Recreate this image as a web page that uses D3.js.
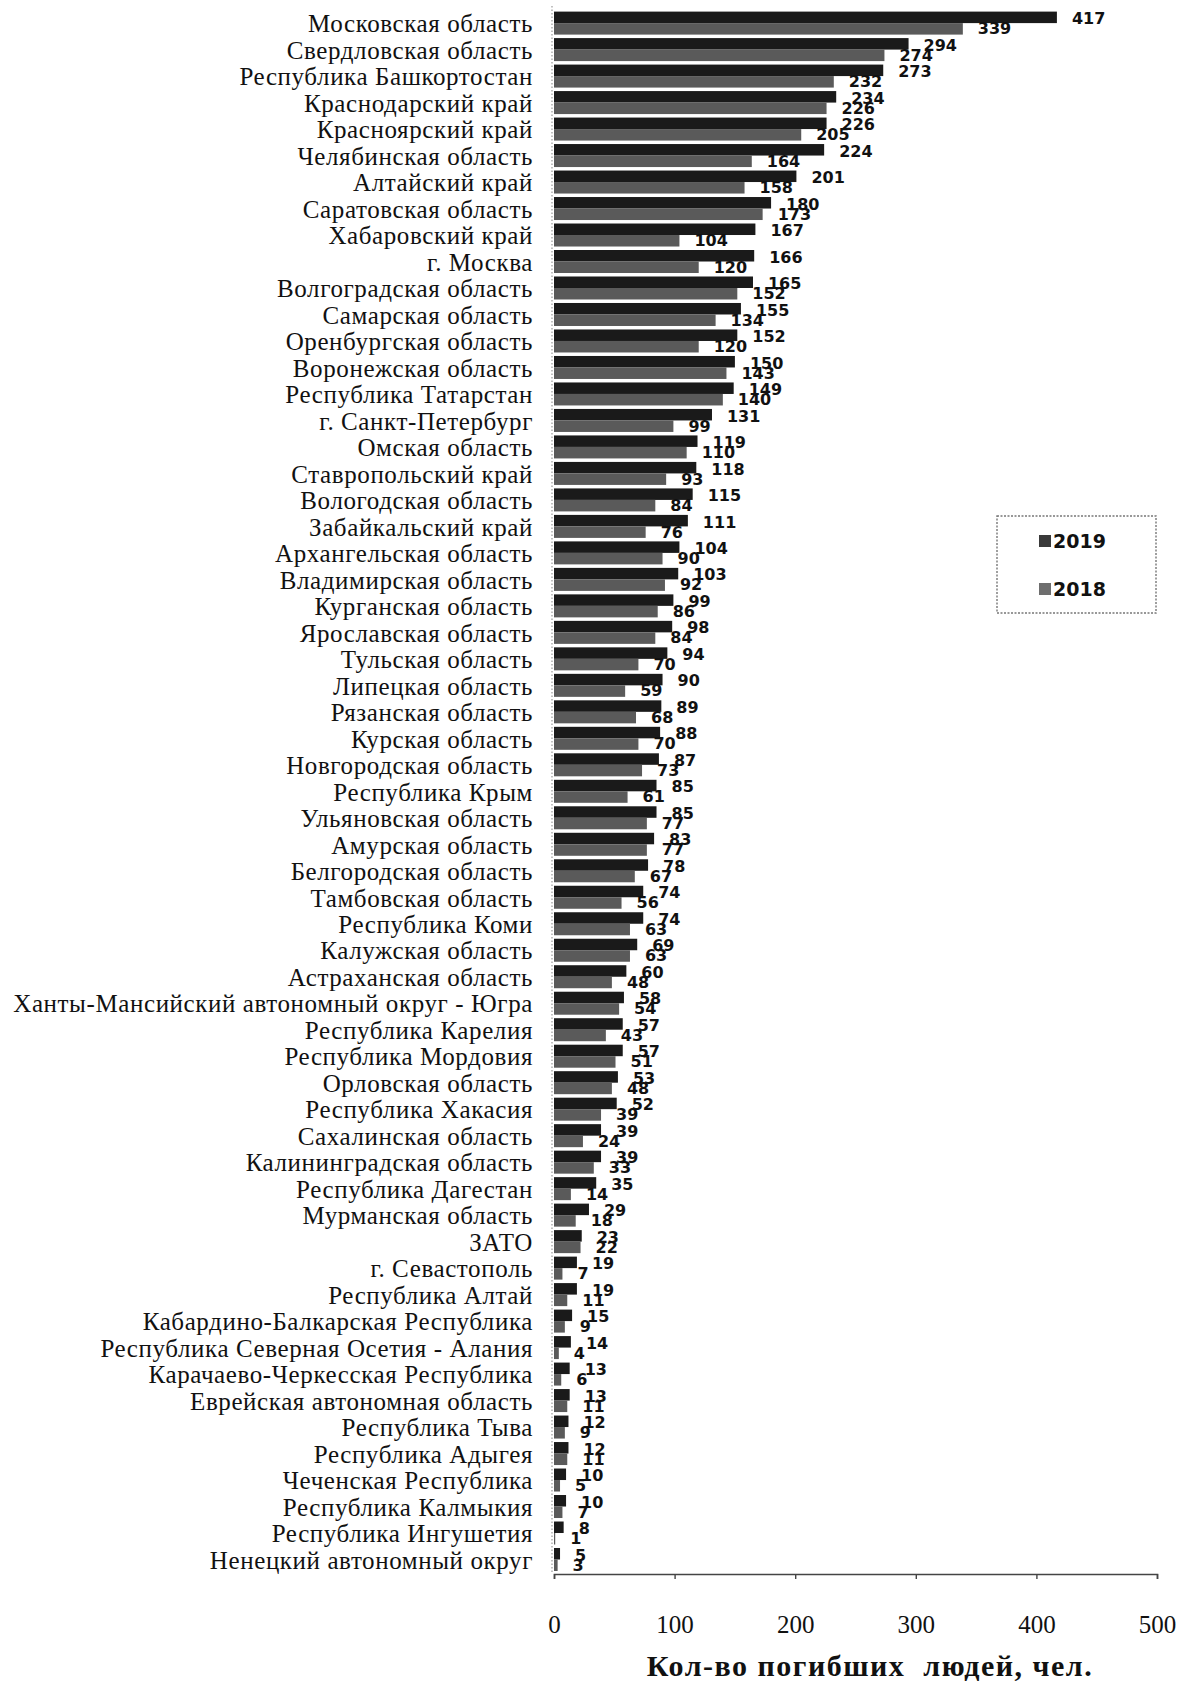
<!DOCTYPE html>
<html><head><meta charset="utf-8">
<script src="https://cdn.jsdelivr.net/npm/d3@7/dist/d3.min.js"></script>
<style>body{margin:0;background:#fff}svg{display:block}</style>
</head><body>
<svg id="c" width="1185" height="1684"></svg>
<script>
const categories = ["Московская область","Свердловская область","Республика Башкортостан","Краснодарский край","Красноярский край","Челябинская область","Алтайский край","Саратовская область","Хабаровский край","г. Москва","Волгоградская область","Самарская область","Оренбургская область","Воронежская область","Республика Татарстан","г. Санкт-Петербург","Омская область","Ставропольский край","Вологодская область","Забайкальский край","Архангельская область","Владимирская область","Курганская область","Ярославская область","Тульская область","Липецкая область","Рязанская область","Курская область","Новгородская область","Республика Крым","Ульяновская область","Амурская область","Белгородская область","Тамбовская область","Республика Коми","Калужская область","Астраханская область","Ханты-Мансийский автономный округ - Югра","Республика Карелия","Республика Мордовия","Орловская область","Республика Хакасия","Сахалинская область","Калининградская область","Республика Дагестан","Мурманская область","ЗАТО","г. Севастополь","Республика Алтай","Кабардино-Балкарская Республика","Республика Северная Осетия - Алания","Карачаево-Черкесская Республика","Еврейская автономная область","Республика Тыва","Республика Адыгея","Чеченская Республика","Республика Калмыкия","Республика Ингушетия","Ненецкий автономный округ"];
const values2019 = [417,294,273,234,226,224,201,180,167,166,165,155,152,150,149,131,119,118,115,111,104,103,99,98,94,90,89,88,87,85,85,83,78,74,74,69,60,58,57,57,53,52,39,39,35,29,23,19,19,15,14,13,13,12,12,10,10,8,5];
const values2018 = [339,274,232,226,205,164,158,173,104,120,152,134,120,143,140,99,110,93,84,76,90,92,86,84,70,59,68,70,73,61,77,77,67,56,63,63,48,54,43,51,48,39,24,33,14,18,22,7,11,9,4,6,11,9,11,5,7,1,3];
const tickValues = [0,100,200,300,400,500];
const seriesNames = ["2019","2018"];
const axisTitle = "Кол-во погибших  людей, чел.";

const svg = d3.select("#c");
const x = d3.scaleLinear().domain([0,500]).range([554,1157]);
const y = d3.scalePoint().domain(categories).range([23.6,1560]);
const color = {"2019":"#1a1a1a","2018":"#5a5a5a"};

svg.append("line").attr("x1",552).attr("x2",552).attr("y1",6).attr("y2",1574)
  .attr("stroke","#999").attr("stroke-width",1.2).attr("stroke-dasharray","1.5,2");

const rows = categories.map((c,i)=>({c, v19:values2019[i], v18:values2018[i]}));
const g = svg.append("g");
g.selectAll("rect.b19").data(rows).join("rect").attr("class","b19")
  .attr("x",x(0)).attr("y",d=>y(d.c)-12).attr("height",11.5)
  .attr("width",d=>x(d.v19)-x(0)).attr("fill",color["2019"]);
g.selectAll("rect.b18").data(rows).join("rect").attr("class","b18")
  .attr("x",x(0)).attr("y",d=>y(d.c)-0.5).attr("height",11.5)
  .attr("width",d=>x(d.v18)-x(0)).attr("fill",color["2018"]);

g.selectAll("text.cat").data(rows).join("text").attr("class","cat")
  .attr("x",533).attr("y",d=>y(d.c)).attr("dy","0.35em").attr("text-anchor","end")
  .attr("font-family","'Liberation Serif','Times New Roman',serif").attr("font-size",25)
  .attr("letter-spacing","0.6px").attr("fill","#111").text(d=>d.c);

const vf = "'DejaVu Sans',Verdana,sans-serif";
g.selectAll("text.v19").data(rows).join("text").attr("class","v19")
  .attr("x",d=>x(d.v19)+15).attr("y",d=>y(d.c)-5).attr("dy","0.35em")
  .attr("font-family",vf).attr("font-weight","bold").attr("font-size",16).attr("fill","#111")
  .text(d=>d.v19);
g.selectAll("text.v18").data(rows).join("text").attr("class","v18")
  .attr("x",d=>x(d.v18)+15).attr("y",d=>y(d.c)+5).attr("dy","0.35em")
  .attr("font-family",vf).attr("font-weight","bold").attr("font-size",16).attr("fill","#111")
  .text(d=>d.v18);

const ax = svg.append("g").attr("transform","translate(0,1574)")
  .call(d3.axisBottom(x).tickValues(tickValues).tickSize(5).tickPadding(36).tickFormat(d3.format("d")));
ax.select(".domain").attr("stroke","#444").attr("stroke-width",1.6);
ax.selectAll(".tick line").attr("stroke","#444").attr("stroke-width",1.4);
ax.selectAll(".tick text").attr("font-family","'Liberation Serif','Times New Roman',serif")
  .attr("font-size",25).attr("fill","#111");

svg.append("text").attr("x",870).attr("y",1676).attr("text-anchor","middle")
  .attr("font-family","'Liberation Serif','Times New Roman',serif").attr("font-weight","bold")
  .attr("font-size",30).attr("letter-spacing","1.5px").style("white-space","pre")
  .attr("fill","#111").text(axisTitle);

const lg = svg.append("g");
lg.append("rect").attr("x",997).attr("y",516).attr("width",159).attr("height",97)
  .attr("fill","none").attr("stroke","#777").attr("stroke-width",1.4).attr("stroke-dasharray","2,1.5");
const ly = {"2019":541,"2018":589};
seriesNames.forEach(s=>{
  lg.append("rect").attr("x",1039).attr("y",ly[s]-6).attr("width",12).attr("height",12)
    .attr("fill",s==="2019"?"#3a3a3a":"#6e6e6e");
  lg.append("text").attr("x",1053).attr("y",ly[s]).attr("dy","0.36em")
    .attr("font-family",vf).attr("font-weight","bold").attr("font-size",19).attr("fill","#111").text(s);
});
</script>
</body></html>
